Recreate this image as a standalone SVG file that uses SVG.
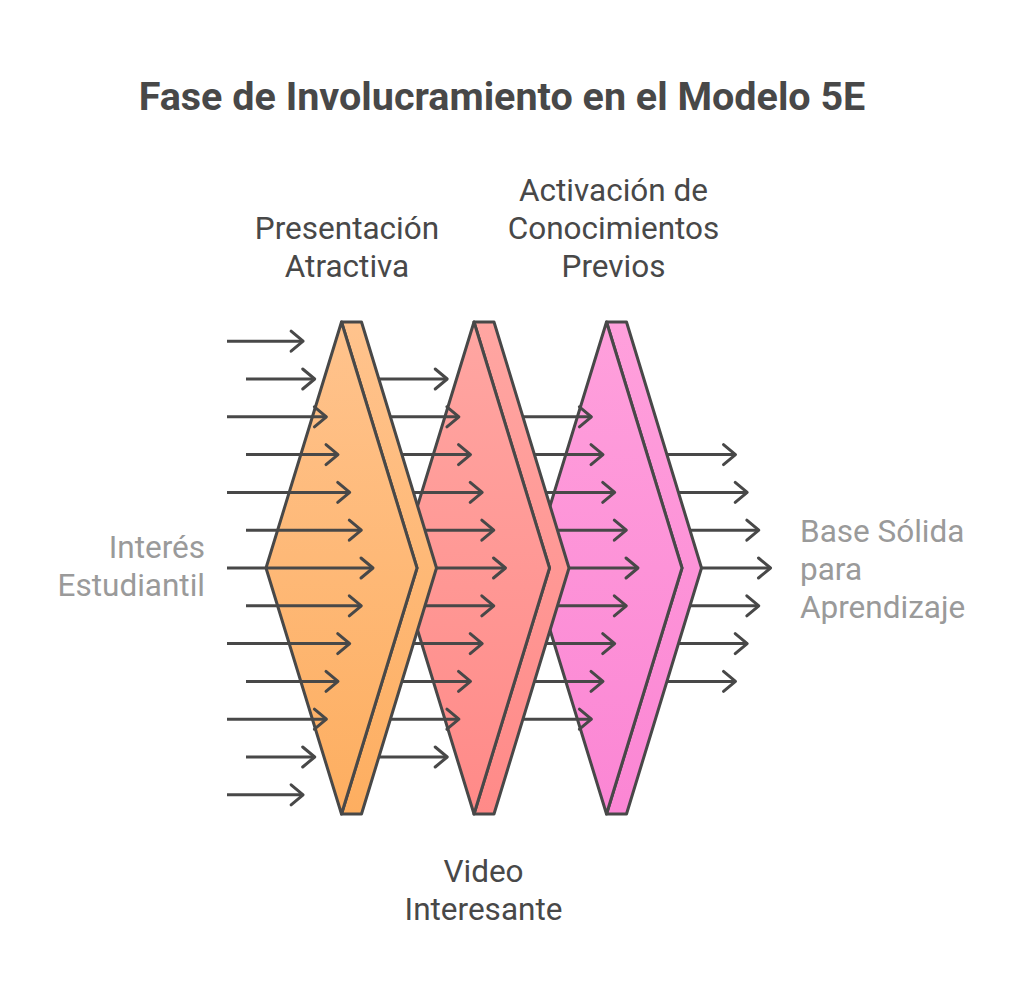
<svg xmlns="http://www.w3.org/2000/svg" width="1024" height="1005" viewBox="0 0 1024 1005">
  <style>
    .title { font-family: Roboto, "Liberation Sans", sans-serif; font-weight: bold; font-size: 39.5px; fill: #484848; }
    .lbl { font-family: Roboto, "Liberation Sans", sans-serif; font-size: 31.5px; fill: #484848; }
    .side { font-family: Roboto, "Liberation Sans", sans-serif; font-size: 31.5px; fill: #9a9a9a; }
    .pr { stroke: #484848; stroke-width: 3; stroke-linejoin: round; }
    .arr { stroke: #484848; stroke-width: 3; fill: none; marker-end: url(#head); }
  </style>
  <defs>
    <marker id="head" markerUnits="userSpaceOnUse" viewBox="-16 -14 20 28" markerWidth="20" markerHeight="28" refX="0" refY="0" orient="auto">
      <path d="M -12 -10 L 0 0 L -12 10" fill="none" stroke="#484848" stroke-width="3" stroke-linecap="round" stroke-linejoin="round"/>
    </marker>
    <linearGradient id="g1" x1="0" y1="0" x2="0" y2="1">
      <stop offset="0" stop-color="#FFC38D"/>
      <stop offset="1" stop-color="#FDAE60"/>
    </linearGradient>
    <linearGradient id="g2" x1="0" y1="0" x2="0" y2="1">
      <stop offset="0" stop-color="#FFA6A2"/>
      <stop offset="1" stop-color="#FF8A88"/>
    </linearGradient>
    <linearGradient id="g3" x1="0" y1="0" x2="0" y2="1">
      <stop offset="0" stop-color="#FFA0DC"/>
      <stop offset="1" stop-color="#FB86D4"/>
    </linearGradient>
  </defs>

  <text class="title" x="502" y="109.5" text-anchor="middle">Fase de Involucramiento en el Modelo 5E</text>

  <!-- set 4 arrows (behind prism 3) -->
  <g id="connectors-out">
    <path class="arr" d="M 615 454.6 H 735.5"/>
    <path class="arr" d="M 615 492.4 H 747.2"/>
    <path class="arr" d="M 615 530.2 H 758.8"/>
    <path class="arr" d="M 615 568 H 770.5"/>
    <path class="arr" d="M 615 605.8 H 758.8"/>
    <path class="arr" d="M 615 643.6 H 747.2"/>
    <path class="arr" d="M 615 681.4 H 735.5"/>
  </g>

  <g id="prism3">
    <polygon class="pr" fill="url(#g3)" points="606.5,322 626.5,322 701.5,568 626.5,814 606.5,814 682,568"/>
    <polygon class="pr" fill="url(#g3)" points="606.5,322 682,568 606.5,814 531,568"/>
  </g>

  <g id="connectors-3">
    <path class="arr" d="M 482.5 416.8 H 591.4"/>
    <path class="arr" d="M 482.5 454.6 H 603"/>
    <path class="arr" d="M 482.5 492.4 H 614.7"/>
    <path class="arr" d="M 482.5 530.2 H 626.3"/>
    <path class="arr" d="M 482.5 568 H 638"/>
    <path class="arr" d="M 482.5 605.8 H 626.3"/>
    <path class="arr" d="M 482.5 643.6 H 614.7"/>
    <path class="arr" d="M 482.5 681.4 H 603"/>
    <path class="arr" d="M 482.5 719.2 H 591.4"/>
  </g>

  <g id="prism2">
    <polygon class="pr" fill="url(#g2)" points="474,322 494,322 569,568 494,814 474,814 549.5,568"/>
    <polygon class="pr" fill="url(#g2)" points="474,322 549.5,568 474,814 398.5,568"/>
  </g>

  <g id="connectors-2">
    <path class="arr" d="M 350 379 H 447.2"/>
    <path class="arr" d="M 350 416.8 H 458.9"/>
    <path class="arr" d="M 350 454.6 H 470.5"/>
    <path class="arr" d="M 350 492.4 H 482.2"/>
    <path class="arr" d="M 350 530.2 H 493.8"/>
    <path class="arr" d="M 350 568 H 505.5"/>
    <path class="arr" d="M 350 605.8 H 493.8"/>
    <path class="arr" d="M 350 643.6 H 482.2"/>
    <path class="arr" d="M 350 681.4 H 470.5"/>
    <path class="arr" d="M 350 719.2 H 458.9"/>
    <path class="arr" d="M 350 757 H 447.2"/>
  </g>

  <g id="prism1">
    <polygon class="pr" fill="url(#g1)" points="341.5,322 361.5,322 436.5,568 361.5,814 341.5,814 417,568"/>
    <polygon class="pr" fill="url(#g1)" points="341.5,322 417,568 341.5,814 266,568"/>
  </g>

  <g id="connectors-in">
    <path class="arr" d="M 227 341.2 H 303.1"/>
    <path class="arr" d="M 246 379 H 314.7"/>
    <path class="arr" d="M 227 416.8 H 326.4"/>
    <path class="arr" d="M 246 454.6 H 338"/>
    <path class="arr" d="M 227 492.4 H 349.7"/>
    <path class="arr" d="M 246 530.2 H 361.3"/>
    <path class="arr" d="M 227 568 H 373"/>
    <path class="arr" d="M 246 605.8 H 361.3"/>
    <path class="arr" d="M 227 643.6 H 349.7"/>
    <path class="arr" d="M 246 681.4 H 338"/>
    <path class="arr" d="M 227 719.2 H 326.4"/>
    <path class="arr" d="M 246 757 H 314.7"/>
    <path class="arr" d="M 227 794.8 H 303.1"/>
  </g>

  <g id="label-presentacion">
    <text class="lbl" x="347" y="239" text-anchor="middle">Presentación</text>
    <text class="lbl" x="347" y="277" text-anchor="middle">Atractiva</text>
  </g>
  <g id="label-activacion">
    <text class="lbl" x="613.5" y="201" text-anchor="middle">Activación de</text>
    <text class="lbl" x="613.5" y="239" text-anchor="middle">Conocimientos</text>
    <text class="lbl" x="613.5" y="277" text-anchor="middle">Previos</text>
  </g>
  <g id="label-video">
    <text class="lbl" x="483.5" y="882" text-anchor="middle">Video</text>
    <text class="lbl" x="483.5" y="920" text-anchor="middle">Interesante</text>
  </g>
  <g id="label-interes">
    <text class="side" x="205" y="558" text-anchor="end">Interés</text>
    <text class="side" x="205" y="596" text-anchor="end">Estudiantil</text>
  </g>
  <g id="label-base">
    <text class="side" x="800" y="542">Base Sólida</text>
    <text class="side" x="800" y="580">para</text>
    <text class="side" x="800" y="618">Aprendizaje</text>
  </g>
</svg>
